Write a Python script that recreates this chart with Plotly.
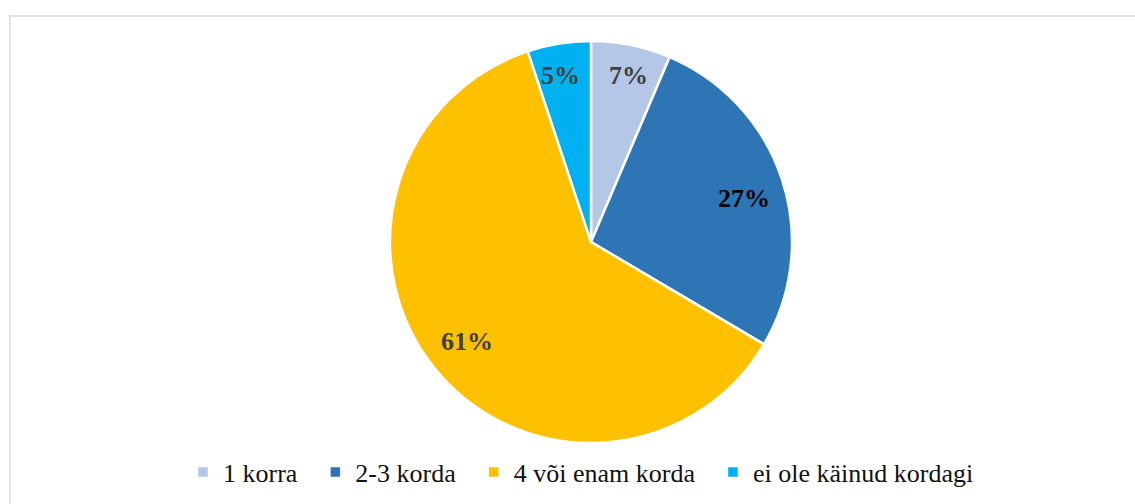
import math
import plotly.graph_objects as go

categories = ["1 korra", "2-3 korda", "4 või enam korda", "ei ole käinud kordagi"]
values = [6.4, 27.1, 61.4, 5.1]
pct_labels = ["7%", "27%", "61%", "5%"]

colors = ["#B4C7E7", "#2E75B6", "#FFC000", "#00B0F0"]
label_colors = ["#404040", "#000000", "#404040", "#404040"]
label_r = [0.85, 0.79, 0.79, 0.84]
label_shift = [0.02, 0.04, 0.0, -0.02]  # small angular nudges (radians)

W, H = 1135, 504
cx, cy, R = 591, 242, 201  # pixel geometry of the pie

# invisible padding widens the gap between legend entries
legend_names = [c + "\u2002" for c in categories]

fig = go.Figure(go.Pie(
    labels=legend_names,
    values=values,
    sort=False,
    direction="clockwise",
    rotation=0,
    textinfo="none",
    hoverinfo="label+percent",
    marker=dict(colors=colors, line=dict(color="white", width=2.5)),
    domain=dict(x=[(cx - R) / W, (cx + R) / W], y=[1 - (cy + R) / H, 1 - (cy - R) / H]),
))

# percentage labels placed along each slice bisector, derived from values
total = sum(values)
cum = 0.0
annotations = []
for v, txt, col, rf, sh in zip(values, pct_labels, label_colors, label_r, label_shift):
    mid = (cum + v / 2) / total * 2 * math.pi + sh
    cum += v
    px = cx + rf * R * math.sin(mid)
    py = cy - rf * R * math.cos(mid)
    annotations.append(dict(
        x=px / W, y=1 - py / H, xref="paper", yref="paper",
        text=f"<b>{txt}</b>", showarrow=False,
        font=dict(family="Liberation Serif", size=26, color=col),
        xanchor="center", yanchor="middle",
    ))

fig.update_layout(
    width=W, height=H,
    margin=dict(l=0, r=0, t=0, b=0),
    paper_bgcolor="white",
    plot_bgcolor="white",
    annotations=annotations,
    showlegend=True,
    legend=dict(
        orientation="h", x=183 / W, xanchor="left", y=1 - 472 / H, yanchor="middle",
        font=dict(family="Liberation Serif", size=26, color="#111111"),
        itemwidth=30, traceorder="normal",
    ),
    shapes=[dict(
        type="rect", xref="paper", yref="paper",
        x0=10 / W, y0=1 - 16 / H, x1=1.02, y1=-0.02,
        line=dict(color="#D9D9D9", width=1.5), fillcolor="rgba(0,0,0,0)",
        layer="below",
    )],
)

fig.write_html(
    "out.html",
    config={"displayModeBar": False},
    post_script="document.body.style.margin='0';document.body.style.overflow='hidden';",
)
